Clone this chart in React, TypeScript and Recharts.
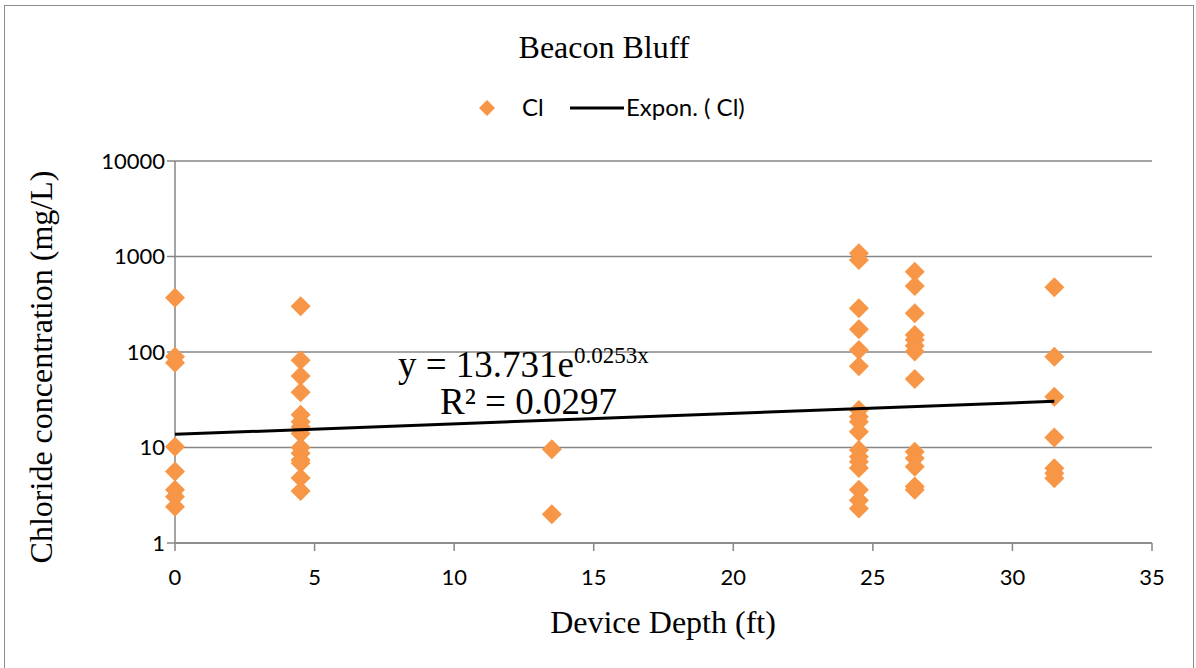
import { ScatterChart, Scatter, XAxis, YAxis, CartesianGrid, Label } from 'recharts';

const depth0 = [370, 89, 77, 10.2, 5.6, 3.6, 3.05, 2.4];
const depth4_5 = [302, 82, 56, 38, 22, 18.6, 16.5, 14, 10, 8.7, 7.4, 6.9, 4.8, 3.5];
const depth13_5 = [9.6, 2.0];
const depth24_5 = [1080, 920, 287, 173, 105, 71, 24.7, 21, 18.6, 14.6, 9.4, 8.0, 7.1, 6.1, 3.6, 2.8, 2.3];
const depth26_5 = [694, 491, 254, 151, 134, 116, 101, 52, 9.0, 7.7, 6.3, 3.9, 3.6];
const depth31_5 = [476, 89, 34, 12.7, 6.06, 5.37, 4.76];

const depths = [0, 4.5, 13.5, 24.5, 26.5, 31.5];
const groups = [depth0, depth4_5, depth13_5, depth24_5, depth26_5, depth31_5];

const xTicks = [0, 5, 10, 15, 20, 25, 30, 35];
const yTicks = [1, 10, 100, 1000, 10000];

// Excel exponential trendline shown on the chart
const trendA = 13.731;
const trendB = 0.0253;
const trendRange = [0, 31.5];

const clData = groups.flatMap((vals, i) => vals.map((v) => ({ x: depths[i], y: v })));
const trendData = trendRange.map((x) => ({ x, y: trendA * Math.exp(trendB * x) }));

const ORANGE = '#F79646';
const GRID = '#868686';
const SERIF = '"Liberation Serif", "Times New Roman", serif';
const SANS = 'Lato, "Open Sans", sans-serif';

const Diamond = (props: any) => {
  const { cx, cy } = props;
  if (cx == null || cy == null) return null;
  const h = 10;
  return <polygon points={`${cx},${cy - h} ${cx + h},${cy} ${cx},${cy + h} ${cx - h},${cy}`} fill={ORANGE} />;
};

export default function App() {
  return (
    <div style={{ position: 'fixed', left: 0, top: 0, width: 1196, height: 668, background: '#fff' }}>
      <div style={{ position: 'absolute', left: 4, top: 5, width: 1188, height: 700, border: '1.5px solid #8c8c8c' }} />
      <ScatterChart width={1196} height={668} margin={{ top: 161, right: 44, bottom: 0, left: 95 }}>
        <CartesianGrid horizontal vertical={false} stroke={GRID} strokeWidth={1.5} />
        <XAxis
          type="number"
          dataKey="x"
          domain={[0, 35]}
          ticks={xTicks}
          stroke={GRID}
          strokeWidth={1.5}
          tickSize={8}
          tickMargin={18}
          tick={{ fill: '#000', fontSize: 22, fontFamily: SANS }}
          height={125}
        >
          <Label
            value="Device Depth (ft)"
            content={() => (
              <text x={663} y={622} textAnchor="middle" dominantBaseline="central" style={{ fontFamily: SERIF, fontSize: 32, fill: '#000' }}>
                Device Depth (ft)
              </text>
            )}
          />
        </XAxis>
        <YAxis
          type="number"
          dataKey="y"
          scale="log"
          domain={[1, 10000]}
          ticks={yTicks}
          allowDataOverflow
          stroke={GRID}
          strokeWidth={1.5}
          tickSize={8}
          tickMargin={2}
          tick={{ fill: '#000', fontSize: 22, fontFamily: SANS }}
          width={80}
        >
          <Label
            value="Chloride concentration (mg/L)"
            content={() => (
              <text x={41} y={367} transform="rotate(-90 41 367)" textAnchor="middle" dominantBaseline="central" style={{ fontFamily: SERIF, fontSize: 32, fill: '#000' }}>
                Chloride concentration (mg/L)
              </text>
            )}
          />
        </YAxis>
        <Scatter name="Cl" data={clData} shape={<Diamond />} isAnimationActive={false} />
        <Scatter
          name="Expon. ( Cl)"
          data={trendData}
          line={{ stroke: '#000', strokeWidth: 3 }}
          lineType="joint"
          shape={() => null}
          isAnimationActive={false}
        />
      </ScatterChart>
      <svg width={1196} height={668} style={{ position: 'absolute', left: 0, top: 0, pointerEvents: 'none' }}>
        <text x={604} y={58} textAnchor="middle" style={{ fontFamily: SERIF, fontSize: 32, fill: '#000' }}>
          Beacon Bluff
        </text>
        <polygon points="487,100 495,108 487,116 479,108" fill={ORANGE} />
        <text x={522} y={116} style={{ fontFamily: SANS, fontSize: 24, fill: '#000' }}>Cl</text>
        <line x1={570} y1={108} x2={624} y2={108} stroke="#000" strokeWidth={3} />
        <text x={626} y={116} style={{ fontFamily: SANS, fontSize: 24, fill: '#000' }}>Expon. ( Cl)</text>
        <text x={398} y={377} style={{ fontFamily: SERIF, fontSize: 37, fill: '#000' }}>
          y = 13.731e
          <tspan dy={-14} style={{ fontSize: 23 }}>0.0253x</tspan>
        </text>
        <text x={440} y={414} style={{ fontFamily: SERIF, fontSize: 37, fill: '#000' }}>
          R² = 0.0297
        </text>
      </svg>
    </div>
  );
}
